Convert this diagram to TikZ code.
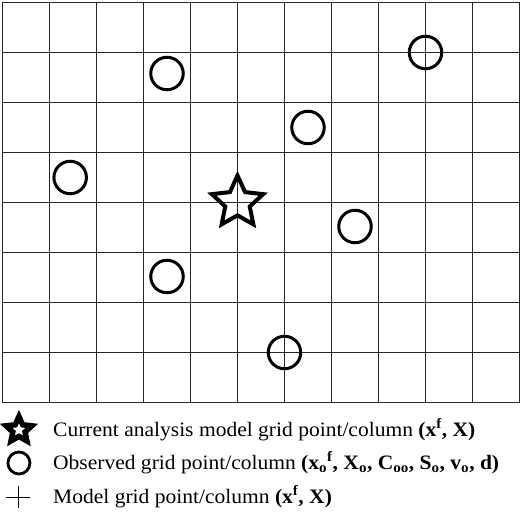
\documentclass[tikz,border=0pt]{standalone}
\usepackage{fontspec}
\setmainfont{Liberation Serif}[FakeStretch=1.05]
\usetikzlibrary{shapes.geometric, positioning}

\tikzset{
  gridline/.style={line width=1.2pt, black!85},
  obs/.style={circle, draw, line width=3pt, minimum size=32.5pt, inner sep=0pt},
  ana/.style={star, star points=5, star point ratio=2.1, draw, line width=4pt, minimum size=54pt, inner sep=0pt},
  legtext/.style={anchor=west, inner sep=0pt, text height=14pt, text depth=2pt, font=\fontsize{20.5}{22}\selectfont},
}

\begin{document}
\begin{tikzpicture}[x=47pt, y=-50pt]
    \useasboundingbox (-2.5pt,2.5pt) rectangle (517.5pt,-510.5pt);
    % model grid
    \foreach \i in {0,...,11} \draw[gridline] (\i,0) -- (\i,8);
    \foreach \j in {0,...,8} \draw[gridline] (0,\j) -- (11,\j);
    % observations and analysis point
    \node[obs] (o1) at (3.5,1.42) {};
    \node[obs] (o2) at (1.44,3.5) {};
    \node[obs] (o3) at (6.5,2.5) {};
    \node[obs] (o4) at (9,1) {};
    \node[obs] (o5) at (3.5,5.48) {};
    \node[obs] (o6) at (7.5,4.48) {};
    \node[obs] (o7) at (6,7) {};
    \node[ana] (cur) at (5,4) {};
    % legend
    \node[ana, minimum size=27pt, line width=5.5pt] (kstar) at (0.35,8.55) {};
    \node[obs, minimum size=22pt, line width=2.8pt] (kobs) at (0.35,9.21) {};
    \node[minimum width=24pt, minimum height=21pt, inner sep=0pt] (kgrid) at (0.33,9.89) {};
    \draw (kgrid.west) -- (kgrid.east) (kgrid.north) -- (kgrid.south);
    \node[legtext, right=34pt of kstar.center] (tstar) {Current analysis model grid point/column \textbf{(x\textsuperscript{f}, X)}};
    \node[legtext, right=34pt of kobs.center] (tobs) {Observed grid point/column \textbf{(x\textsubscript{o}\textsuperscript{f}, X\textsubscript{o}, C\textsubscript{oo}, S\textsubscript{o}, v\textsubscript{o}, d)}};
    \node[legtext, right=35pt of kgrid.center] (tgrid) {Model grid point/column \textbf{(x\textsuperscript{f}, X)}};
\end{tikzpicture}
\end{document}
